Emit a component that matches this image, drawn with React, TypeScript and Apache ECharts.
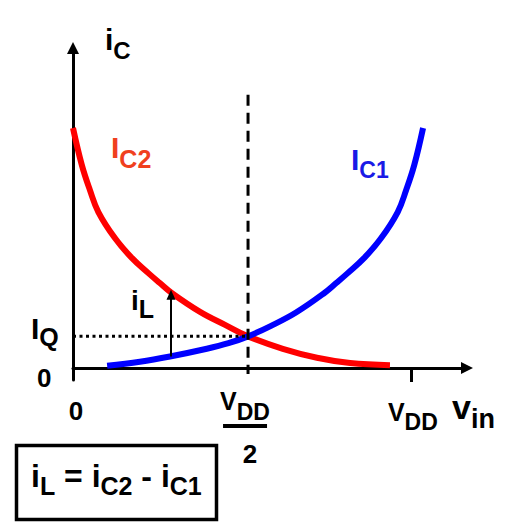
import React, { useEffect, useRef } from "react";
import * as echarts from "echarts";

// ---- data (x in units where V_DD = 10, y in units where I_Q = 1) ----
const vdd = 10;
const vddHalf = 5.18;
const iq = 1.02;
const xMax = 11.66;
const yMin = -0.387;
const yMax = 10.32;

const ic2Points: [number, number][] = [
  [0, 7.74], [0.26, 6.55], [0.5, 5.74], [0.75, 5.03], [1.24, 4.19],
  [1.74, 3.55], [2.23, 3.06], [2.57, 2.74], [2.92, 2.42], [3.76, 1.81],
  [4.5, 1.39], [5.18, 1.02], [6.21, 0.62], [7.22, 0.33], [8.2, 0.16], [9.38, 0.09],
];
const ic1Points: [number, number][] = [
  [1.01, 0.07], [1.98, 0.2], [2.87, 0.37], [3.96, 0.62], [4.6, 0.8], [5.18, 1.02],
  [5.86, 1.36], [6.6, 1.79], [7.44, 2.42], [7.79, 2.74], [8.13, 3.06],
  [8.62, 3.55], [9.12, 4.19], [9.61, 5.03], [9.86, 5.74], [10.1, 6.55], [10.36, 7.74],
];
const dashedLine: [number, number][] = [[vddHalf, 8.81], [vddHalf, -0.19]];
const iqLine: [number, number][] = [[0, iq], [vddHalf, iq]];
const iLArrowX = 2.9;
const iLArrowFrom = 0.37;
const iLArrowTo = 2.36;
const xTickValues = [vdd];

const FONT = '"Liberation Sans", Arial, Helvetica, sans-serif';
const RED = "#ff0000";
const BLUE = "#0000ff";
const RED_TEXT = "#f0401e";
const BLUE_TEXT = "#1a1ae6";

let measureCtx: CanvasRenderingContext2D | null = null;
function tw(text: string, size: number): number {
  if (!measureCtx) measureCtx = document.createElement("canvas").getContext("2d");
  if (!measureCtx) return text.length * size * 0.6;
  measureCtx.font = `bold ${size}px ${FONT}`;
  return measureCtx.measureText(text).width;
}

function txt(text: string, x: number, baseline: number, size: number, color = "#000", center = false) {
  const y = baseline - 0.3465 * size;
  const left = center ? x - tw(text, size) / 2 : x;
  return {
    type: "text",
    silent: true,
    z: 100,
    style: {
      text, x: left, y,
      font: `bold ${size}px ${FONT}`,
      fill: color,
      align: "left", verticalAlign: "middle",
    },
  };
}

// tokens: [text, size, baseline offset]
function seq(x: number, baseline: number, tokens: [string, number, number][], color = "#000") {
  const out: any[] = [];
  let cx = x;
  for (const [t, s, dy] of tokens) {
    out.push(txt(t, cx, baseline + dy, s, color));
    cx += tw(t, s);
  }
  return out;
}

export default function App() {
  const ref = useRef<HTMLDivElement>(null);
  useEffect(() => {
    if (!ref.current) return;
    const chart = echarts.init(ref.current, undefined, { renderer: "svg" });
    chart.setOption({
      animation: false,
      backgroundColor: "#ffffff",
      grid: { left: 73, top: 48, width: 394, height: 332, containLabel: false },
      xAxis: {
        type: "value", min: 0, max: xMax,
        axisLine: {
          show: true, onZero: true,
          symbol: ["none", "triangle"], symbolSize: [12, 12],
          lineStyle: { color: "#000", width: 3 },
        },
        axisTick: { show: true, customValues: xTickValues, length: 14, lineStyle: { color: "#000", width: 3 } },
        axisLabel: { show: false },
        splitLine: { show: false },
      },
      yAxis: {
        type: "value", min: yMin, max: yMax,
        axisLine: {
          show: true,
          symbol: ["none", "triangle"], symbolSize: [12, 12],
          lineStyle: { color: "#000", width: 3 },
        },
        axisTick: { show: false },
        axisLabel: { show: false },
        splitLine: { show: false },
      },
      series: [
        {
          type: "line", data: ic2Points, smooth: 0.4, symbol: "none",
          lineStyle: { color: RED, width: 6, cap: "butt" }, silent: true, z: 3,
        },
        {
          type: "line", data: ic1Points, smooth: 0.4, symbol: "none",
          lineStyle: { color: BLUE, width: 6, cap: "butt" }, silent: true, z: 4,
          markLine: {
            silent: true, symbol: ["none", "triangle"], symbolSize: [9, 10],
            label: { show: false },
            lineStyle: { color: "#000", width: 2, type: "solid" },
            data: [[{ coord: [iLArrowX, iLArrowFrom] }, { coord: [iLArrowX, iLArrowTo] }]],
          },
        },
        {
          type: "line", data: dashedLine, symbol: "none", silent: true, z: 5,
          lineStyle: { color: "#000", width: 3, type: [11, 7] },
        },
        {
          type: "line", data: iqLine, symbol: "none", silent: true, z: 5,
          lineStyle: { color: "#000", width: 3, type: [3, 3.5] },
        },
      ],
    });

    const P = (x: number, y: number) => chart.convertToPixel({ gridIndex: 0 }, [x, y]) as number[];
    const [x0, y0] = P(0, 0);
    const xh = P(vddHalf, 0)[0];
    const xv = P(vdd, 0)[0];
    const yq = P(0, iq)[1];

    const graphic: any[] = [
      ...seq(x0 + 32, 50, [["i", 30, 0], ["C", 24, 9]]),
      ...seq(111, 158, [["I", 30, 0], ["C2", 25, 10]], RED_TEXT),
      ...seq(351, 170, [["I", 30, 0], ["C1", 23, 8]], BLUE_TEXT),
      ...seq(131, 310, [["i", 28, 0], ["L", 25, 8]]),
      ...seq(x0 - 42, yq + 3, [["I", 30, 0], ["Q", 25, 6]]),
      txt("0", x0 - 36, y0 + 19, 26),
      txt("0", x0 + 3, y0 + 52, 26, "#000", true),
      ...seq(xh - 28, y0 + 42, [["V", 25, 0], ["DD", 23, 10]]),
      { type: "rect", silent: true, shape: { x: xh - 25, y: y0 + 56, width: 44, height: 4 }, style: { fill: "#000" } },
      txt("2", xh + 2, y0 + 95, 26, "#000", true),
      ...seq(xv - 23, y0 + 53, [["V", 25, 0], ["DD", 23, 9]]),
      ...seq(452, y0 + 51, [["v", 34, 0], ["in", 27, 9]]),
      { type: "rect", silent: true, shape: { x: 16.5, y: 445.5, width: 200, height: 74 }, style: { fill: "none", stroke: "#000", lineWidth: 3.5 } },
      ...seq(31, 487, [["i", 32, 0], ["L", 25, 8], [" = i", 32, 0], ["C2", 25, 8], [" - i", 32, 0], ["C1", 25, 8]]),
    ];
    chart.setOption({ graphic });

    return () => chart.dispose();
  }, []);
  return (
    <div
      ref={ref}
      style={{ position: "fixed", left: 0, top: 0, width: 512, height: 532, background: "#fff" }}
    />
  );
}
